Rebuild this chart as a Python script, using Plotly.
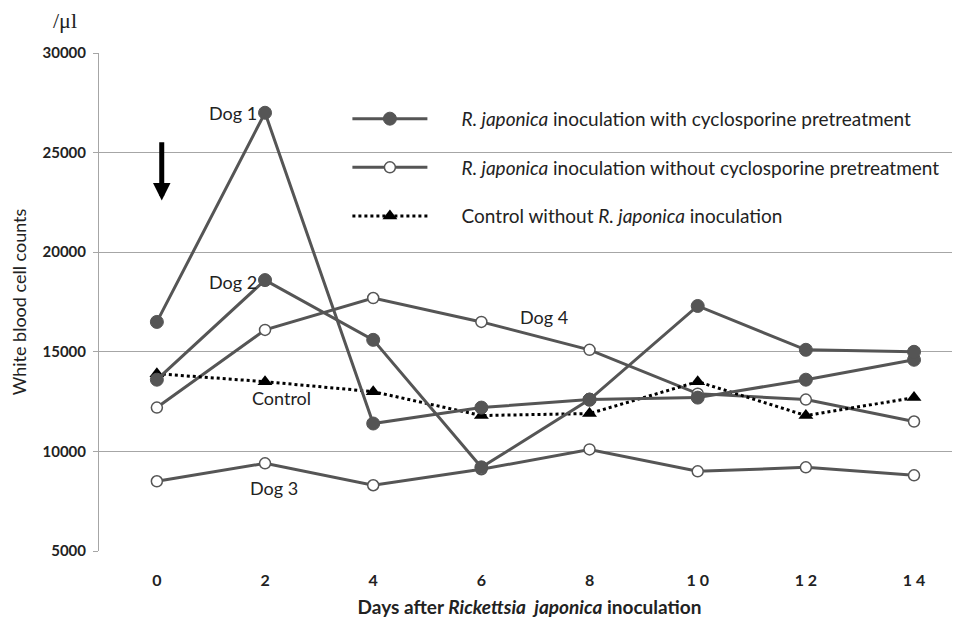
import plotly.graph_objects as go

days = [0, 2, 4, 6, 8, 10, 12, 14]
day_labels = ["0", "2", "4", "6", "8", "1 0", "1 2", "1 4"]

dog1 = [16500, 27000, 11400, 12200, 12600, 12700, 13600, 14600]
dog2 = [13600, 18600, 15600, 9200, 12600, 17300, 15100, 15000]
dog3 = [8500, 9400, 8300, 9100, 10100, 9000, 9200, 8800]
dog4 = [12200, 16100, 17700, 16500, 15100, 12900, 12600, 11500]
control = [13900, 13500, 13000, 11800, 11900, 13500, 11800, 12700]

GRAY = "#555555"
FONT = "Lato, 'Open Sans', sans-serif"
PAD = "\u00a0" * 6

fig = go.Figure()

filled = dict(symbol="circle", size=13, color=GRAY, line=dict(color=GRAY, width=1))
opened = dict(symbol="circle", size=11, color="white", line=dict(color=GRAY, width=1.5))

fig.add_trace(go.Scatter(x=days, y=dog3, mode="lines+markers", line=dict(color=GRAY, width=3),
                         marker=opened, name=PAD + "<i>R. japonica</i> inoculation without cyclosporine pretreatment",
                         legendgroup="b", legendrank=2, showlegend=True))
fig.add_trace(go.Scatter(x=days, y=dog4, mode="lines+markers", line=dict(color=GRAY, width=3),
                         marker=opened, name="dog4", legendgroup="b", showlegend=False))
fig.add_trace(go.Scatter(x=days, y=control, mode="lines+markers", line=dict(color="black", width=3, dash="dot"),
                         marker=dict(symbol="triangle-up", size=13, color="black"),
                         name=PAD + "Control without <i>R. japonica</i> inoculation", legendgroup="c", legendrank=3))
fig.add_trace(go.Scatter(x=days, y=dog1, mode="lines+markers", line=dict(color=GRAY, width=3),
                         marker=filled, name=PAD + "<i>R. japonica</i> inoculation with cyclosporine pretreatment",
                         legendgroup="a", legendrank=1))
fig.add_trace(go.Scatter(x=days, y=dog2, mode="lines+markers", line=dict(color=GRAY, width=3),
                         marker=filled, name="dog2", legendgroup="a", showlegend=False))

labels = [("Dog 1", 1.40, 27000), ("Dog 2", 1.40, 18500), ("Control", 2.31, 12700),
          ("Dog 3", 2.16, 8150), ("Dog 4", 7.16, 16750)]
for txt, x, y in labels:
    fig.add_annotation(x=x, y=y, text=txt, showarrow=False, font=dict(family=FONT, size=18, color="#222"))

fig.add_annotation(x=0.09, y=22600, ax=0.09, ay=25600, axref="x", ayref="y", xref="x", yref="y",
                   text="", showarrow=True, arrowhead=2, arrowsize=0.7, arrowwidth=5, arrowcolor="black")

fig.add_annotation(x=-0.056, y=1.066, xref="paper", yref="paper", text="/\u03bcl", showarrow=False,
                   xanchor="left", yanchor="middle", font=dict(family="Liberation Serif", size=22, color="#222"))

fig.update_layout(
    width=960, height=628,
    margin=dict(l=89, r=8, t=45, b=85),
    plot_bgcolor="white", paper_bgcolor="white",
    font=dict(family=FONT, color="#222"),
    legend=dict(x=0.2885, y=0.906, xanchor="left", yanchor="top", bgcolor="rgba(0,0,0,0)",
                font=dict(family=FONT, size=19, color="#222"), tracegroupgap=21,
                itemwidth=75, traceorder="grouped"),
    xaxis=dict(range=[-1.07, 14.85], tickmode="array", tickvals=days, ticktext=day_labels,
               showgrid=False, zeroline=False, showline=False, ticks="",
               tickfont=dict(family=FONT, size=16, color="#222", weight="bold"),
               ticklabelstandoff=18,
               title=dict(text="Days after <i>Rickettsia  japonica</i> inoculation",
                          font=dict(family=FONT, size=19, color="#222", weight="bold"), standoff=12)),
    yaxis=dict(range=[5000, 30000], tickvals=[5000, 10000, 15000, 20000, 25000, 30000], tickformat="d",
               showgrid=True, gridcolor="#a6a6a6", gridwidth=1, zeroline=False,
               showline=True, linecolor="#a6a6a6", linewidth=1,
               ticks="outside", ticklen=5, tickcolor="#a6a6a6", ticklabelstandoff=4,
               tickfont=dict(family=FONT, size=15, color="#222", weight="bold"),
               title=dict(text="White blood cell counts", font=dict(family=FONT, size=18, color="#222"), standoff=14)),
)

fig.write_html("out.html")
